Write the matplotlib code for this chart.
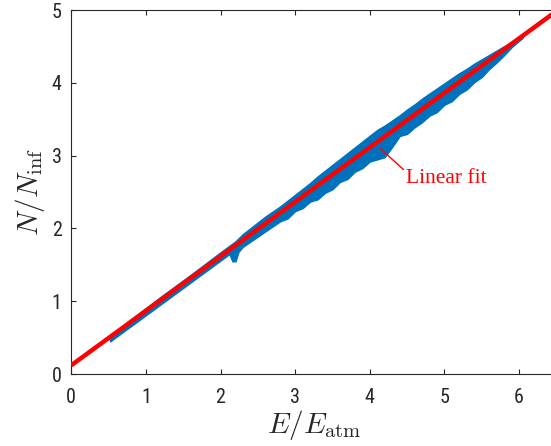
import matplotlib
matplotlib.use("Agg")
import matplotlib.pyplot as plt
from matplotlib import font_manager as fm

# ---- data ----
band_x = [0.52, 0.8, 1.2, 1.6, 2.0, 2.12, 2.16, 2.2, 2.24, 2.3,
          2.6, 2.7, 2.8, 2.9, 3.0, 3.1, 3.2, 3.3, 3.4, 3.5, 3.6, 3.7, 3.8, 3.9,
          4.0, 4.1, 4.2, 4.3, 4.4, 4.5, 4.6, 4.7, 4.8, 4.9, 5.0, 5.1, 5.2, 5.3,
          5.4, 5.5, 5.6, 5.7, 5.8, 5.9, 6.05]
band_upper = [0.51, 0.75, 1.06, 1.36, 1.67, 1.76, 1.79, 1.82, 1.86, 1.92,
              2.16, 2.23, 2.30, 2.38, 2.46, 2.54, 2.62, 2.71, 2.79, 2.87, 2.95, 3.03, 3.11, 3.19,
              3.27, 3.35, 3.41, 3.48, 3.55, 3.63, 3.70, 3.78, 3.85, 3.92, 3.99, 4.06, 4.13, 4.19,
              4.26, 4.32, 4.38, 4.44, 4.50, 4.56, 4.65]
band_lower = [0.45, 0.66, 0.96, 1.26, 1.56, 1.65, 1.55, 1.55, 1.68, 1.75,
              1.96, 2.03, 2.10, 2.14, 2.24, 2.28, 2.37, 2.40, 2.49, 2.54, 2.64, 2.68, 2.78, 2.83,
              2.92, 2.95, 2.98, 3.12, 3.27, 3.30, 3.39, 3.46, 3.55, 3.60, 3.70, 3.75, 3.85, 3.91,
              4.01, 4.08, 4.19, 4.28, 4.38, 4.49, 4.62]

fit_x = [0.0, 6.5]
fit_intercept = 0.12
fit_slope = 0.748

annot_text = "Linear fit"
annot_xy = (4.14, 3.10)       # arrow tip
annot_text_xy = (4.49, 2.62)  # text baseline-left

xticks = [0, 1, 2, 3, 4, 5, 6]
yticks = [0, 1, 2, 3, 4, 5]

# ---- style ----
def pick_font():
    cands = [f for f in fm.fontManager.ttflist
             if f.style == 'normal' and f.weight in (400, 'normal', 'regular')]
    for name in ('Roboto Condensed', 'Liberation Sans Narrow'):
        for f in cands:
            if f.name == name:
                return fm.FontProperties(fname=f.fname)
    for f in cands:
        if f.name == 'DejaVu Sans' and 'ondensed' in f.fname:
            return fm.FontProperties(fname=f.fname)
    return fm.FontProperties(family='Roboto')

tick_prop = pick_font()
tick_prop.set_size(14.5)

plt.rcParams['mathtext.fontset'] = 'cm'
axcol = '#262626'

fig = plt.figure(figsize=(5.51, 4.46), dpi=100)
ax = fig.add_axes([71.3 / 551, 1 - 374 / 446, (556.2 - 71.3) / 551, (374 - 10) / 446])

ax.fill_between(band_x, band_lower, band_upper, color='#0072BD', lw=1.2,
                edgecolor='#0072BD', zorder=2)
fit_y = [fit_intercept + fit_slope * v for v in fit_x]
ax.plot(fit_x, fit_y, color='#FF0000', lw=3.2, solid_capstyle='butt', zorder=3)

ax.annotate(annot_text, xy=annot_xy, xytext=annot_text_xy, color='#FF0000',
            fontsize=15.5, family='Liberation Serif', va='baseline', ha='left',
            arrowprops=dict(arrowstyle='-', color='#FF0000', lw=1.0,
                            shrinkA=0, shrinkB=0,
                            relpos=(0, 0.85)), zorder=4)

ax.set_xlim(0, 6.5)
ax.set_ylim(0, 5)
ax.set_xticks(xticks)
ax.set_yticks(yticks)
ax.tick_params(axis='both', which='both', direction='in', length=3.8, width=0.8,
               colors=axcol, top=True, right=True)
ax.tick_params(axis='x', pad=10)
ax.tick_params(axis='y', pad=7)
for lab in ax.get_xticklabels() + ax.get_yticklabels():
    lab.set_fontproperties(tick_prop)
for s in ax.spines.values():
    s.set_color(axcol)
    s.set_linewidth(0.8)

ax.set_xlabel(r'$E/E_{\rm atm}$', fontsize=21, color=axcol, labelpad=1)
ax.set_ylabel(r'$N/N_{\rm inf}$', fontsize=21, color=axcol, labelpad=3)

fig.savefig('out.png', dpi=100)
